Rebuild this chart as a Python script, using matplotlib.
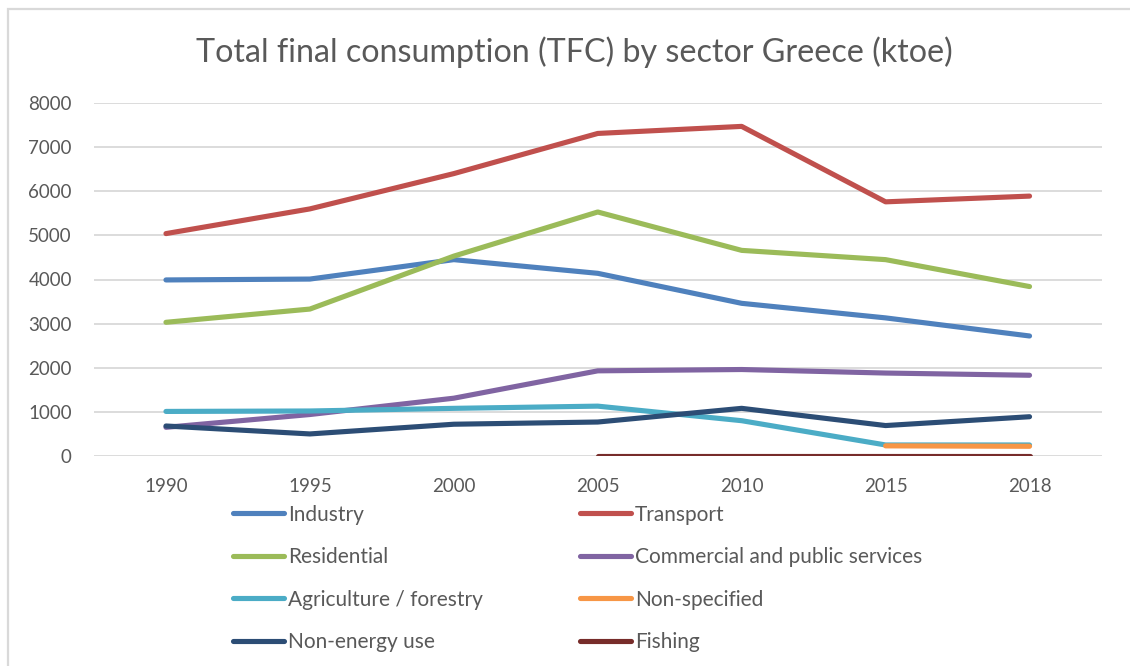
import numpy as np
import matplotlib
matplotlib.use("Agg")
import matplotlib.pyplot as plt
from matplotlib.patches import Rectangle

# TFC by sector, Greece (ktoe)
years = ["1990", "1995", "2000", "2005", "2010", "2015", "2018"]

industry = [3990, 4010, 4450, 4140, 3460, 3130, 2720]
transport = [5040, 5600, 6400, 7310, 7470, 5760, 5890]
residential = [3030, 3330, 4530, 5530, 4660, 4450, 3840]
commercial = [650, 940, 1310, 1930, 1960, 1880, 1830]
agriculture = [1010, 1020, 1080, 1130, 800, 250, 250]
non_specified = [np.nan, np.nan, np.nan, np.nan, np.nan, 230, 220]
non_energy = [680, 500, 720, 770, 1080, 690, 890]
fishing = [np.nan, np.nan, np.nan, 5, 5, 5, 5]

series = [
    ("Industry", industry, "#4F81BD"),
    ("Transport", transport, "#C0504D"),
    ("Residential", residential, "#9BBB59"),
    ("Commercial and public services", commercial, "#8064A2"),
    ("Agriculture / forestry", agriculture, "#4BACC6"),
    ("Non-specified", non_specified, "#F79646"),
    ("Non-energy use", non_energy, "#2C4D75"),
    ("Fishing", fishing, "#772C2A"),
]

W, H = 1130, 666
fig = plt.figure(figsize=(W / 100, H / 100), dpi=100)
fig.patch.set_facecolor("white")

# chart area border
fig.patches.append(Rectangle((8 / W, -0.1), 1.2, 1.1 - 9 / H, transform=fig.transFigure,
                             fill=False, edgecolor="#D9D9D9", lw=1.6))

ax = fig.add_axes([94 / W, 1 - 456 / H, (1101.5 - 94) / W, (456 - 103) / H])
x = np.arange(len(years))

# draw order: later series on top
lines = []
for name, vals, col in series:
    ln, = ax.plot(x, vals, color=col, lw=3.7, solid_capstyle="round",
                  solid_joinstyle="round", label=name, zorder=3)
    lines.append(ln)

ax.set_xlim(-0.5, len(years) - 0.5)
ax.set_ylim(0, 8000)
ax.set_yticks(range(0, 8001, 1000))
ax.set_xticks(x)
ax.set_xticklabels(years)
ax.grid(axis="y", color="#D9D9D9", lw=1.3)
ax.set_axisbelow(True)
for s in ax.spines.values():
    s.set_visible(False)
ax.tick_params(length=0, labelsize=13.5, labelcolor="#595959", pad=16)
for lab in ax.get_xticklabels() + ax.get_yticklabels():
    lab.set_family(["Lato", "DejaVu Sans"])

fig.text(574 / W, 1 - 52 / H, "Total final consumption (TFC) by sector Greece (ktoe)",
         ha="center", va="center", fontsize=23.2, color="#595959",
         family=["Lato", "DejaVu Sans"])

# legend filled row by row: reorder so column-major fill reads across
order = [0, 2, 4, 6, 1, 3, 5, 7]
leg = fig.legend([lines[i] for i in order], [series[i][0] for i in order],
                 loc="center left", bbox_to_anchor=(233 / W, 1 - 578.5 / H), ncol=2,
                 frameon=False, borderpad=0, borderaxespad=0, handlelength=2.45,
                 handletextpad=0.2, labelspacing=1.08, columnspacing=4.65,
                 prop={"family": ["Lato", "DejaVu Sans"], "size": 15})
for t in leg.get_texts():
    t.set_color("#595959")
for h in leg.get_lines():
    h.set_linewidth(3.7)
    h.set_solid_capstyle("round")

fig.savefig("out.png", dpi=100)
